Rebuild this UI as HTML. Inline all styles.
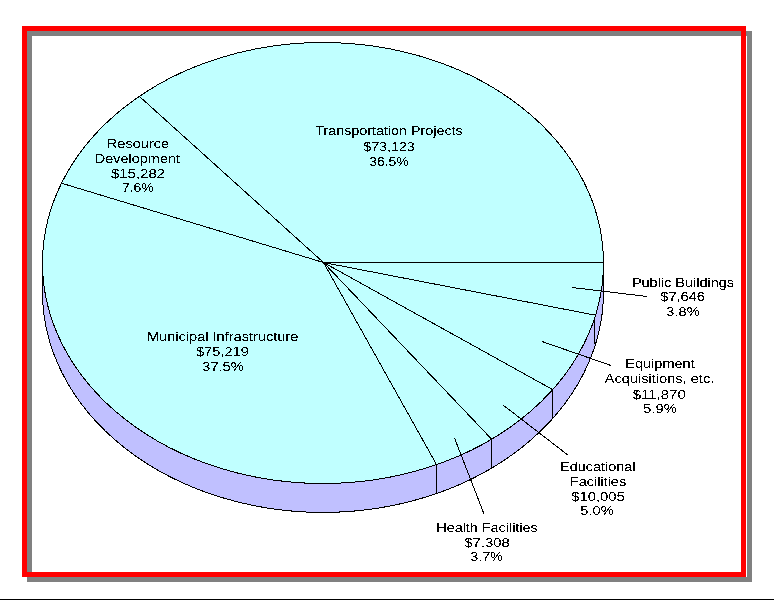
<!DOCTYPE html>
<html>
<head>
<meta charset="utf-8">
<style>
html,body{margin:0;padding:0;background:#fff;}
body{width:774px;height:600px;position:relative;overflow:hidden;}
.gray{position:absolute;left:27px;top:31px;width:715px;height:541px;border:5px solid #808080;}
.red{position:absolute;left:22px;top:26px;width:714px;height:541px;border:5px solid #ff0000;}
.bl{position:absolute;left:0;top:599px;width:774px;height:1px;background:#000;}
svg{position:absolute;left:0;top:0;}
text{font-family:"Liberation Sans",Arial,sans-serif;font-size:13px;fill:#000;}
</style>
</head>
<body>
<div class="gray"></div>
<div class="red"></div>
<div class="bl"></div>
<svg width="774" height="600" viewBox="0 0 774 600">
<g stroke="#000" stroke-width="1" fill="none" shape-rendering="crispEdges">
<path d="M42.5,263 A280.5,220.5 0 0 0 603.5,263 L603.5,292 A280.5,220.5 0 0 1 42.5,292 Z" fill="#c0c0ff" stroke="none"/>
<path d="M42.5,263 V292 A280.5,220.5 0 0 0 603.5,292 V263"/>
<path d="M436.5,464.5 V493.5 M491.5,439 V468 M552.5,389.5 V418.5 M594.5,315 V344"/>
<ellipse cx="323" cy="263" rx="280.5" ry="220.5" fill="#c0ffff"/>
<path d="M323.5,262.5 L603.5,262.5 M323.5,262.5 L139.5,96.5 M323.5,262.5 L62.5,183.5 M323.5,262.5 L436.5,464.5 M323.5,262.5 L491.5,439 M323.5,262.5 L552.5,389.5 M323.5,262.5 L594.5,315"/>
<path d="M572,287.5 L647,296.5 M542,341.5 L611,365.5 M503,405 L568.5,455.5 M454.5,438 L484,514"/>
</g>
<defs><filter id="thr" x="0" y="0" width="774" height="600" filterUnits="userSpaceOnUse"><feComponentTransfer><feFuncA type="discrete" tableValues="0 0 0 0 0 0 0 0 0 1 1 1 1 1 1 1 1 1 1 1"/></feComponentTransfer></filter></defs>
<g text-anchor="middle" filter="url(#thr)">
<text x="389" y="135" textLength="147.5" lengthAdjust="spacingAndGlyphs">Transportation Projects</text>
<text x="389" y="150.5" textLength="51.5" lengthAdjust="spacingAndGlyphs">$73,123</text>
<text x="389" y="166" textLength="39.5" lengthAdjust="spacingAndGlyphs">36.5%</text>

<text x="138" y="148" textLength="62.5" lengthAdjust="spacingAndGlyphs">Resource</text>
<text x="137.4" y="163" textLength="85.2" lengthAdjust="spacingAndGlyphs">Development</text>
<text x="138" y="178" textLength="54.2" lengthAdjust="spacingAndGlyphs">$15,282</text>
<text x="137.8" y="192.3" textLength="31.8" lengthAdjust="spacingAndGlyphs">7.6%</text>

<text x="222.7" y="341" textLength="151.5" lengthAdjust="spacingAndGlyphs">Municipal Infrastructure</text>
<text x="222.4" y="356" textLength="52.8" lengthAdjust="spacingAndGlyphs">$75,219</text>
<text x="223" y="370.5" textLength="41.3" lengthAdjust="spacingAndGlyphs">37.5%</text>

<text x="683" y="286.7" textLength="102.2" lengthAdjust="spacingAndGlyphs">Public Buildings</text>
<text x="682.6" y="301.4" textLength="44.7" lengthAdjust="spacingAndGlyphs">$7,646</text>
<text x="683" y="316" textLength="33.3" lengthAdjust="spacingAndGlyphs">3.8%</text>

<text x="660" y="368.2" textLength="69.5" lengthAdjust="spacingAndGlyphs">Equipment</text>
<text x="659.5" y="383" textLength="109.5" lengthAdjust="spacingAndGlyphs">Acquisitions, etc.</text>
<text x="659.2" y="398.5" textLength="53.1" lengthAdjust="spacingAndGlyphs">$11,870</text>
<text x="660" y="413" textLength="33.8" lengthAdjust="spacingAndGlyphs">5.9%</text>

<text x="597.8" y="470.9" textLength="75.5" lengthAdjust="spacingAndGlyphs">Educational</text>
<text x="598" y="485.6" textLength="56.3" lengthAdjust="spacingAndGlyphs">Facilities</text>
<text x="598" y="500.8" textLength="53.5" lengthAdjust="spacingAndGlyphs">$10,005</text>
<text x="597" y="515.3" textLength="33.5" lengthAdjust="spacingAndGlyphs">5.0%</text>

<text x="487" y="531.5" textLength="101.5" lengthAdjust="spacingAndGlyphs">Health Facilities</text>
<text x="487" y="546.5" textLength="45.25" lengthAdjust="spacingAndGlyphs">$7,308</text>
<text x="486.5" y="561" textLength="32.5" lengthAdjust="spacingAndGlyphs">3.7%</text>
</g>
</svg>
</body>
</html>
